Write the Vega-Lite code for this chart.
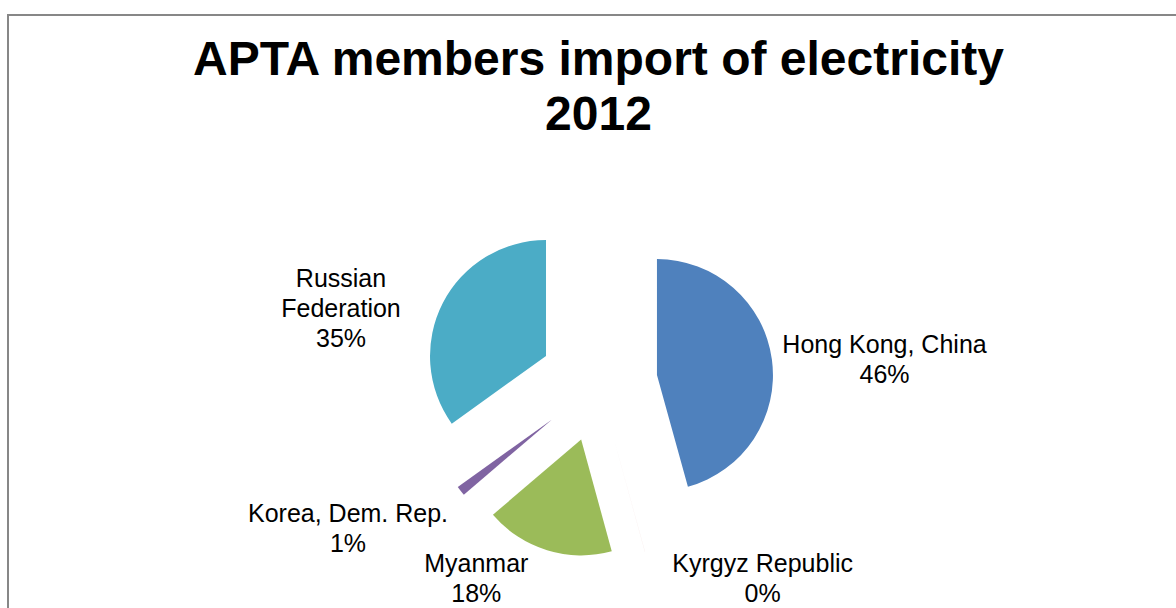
{
  "$schema": "https://vega.github.io/schema/vega-lite/v6.json",
  "autosize": "none",
  "width": 1181,
  "height": 736,
  "padding": {"left": 8, "top": 15, "right": -13, "bottom": -143},
  "background": "white",
  "view": {"stroke": "#878787", "strokeWidth": 2, "fill": "white"},
  "config": {
    "view": {"stroke": "#878787", "strokeWidth": 2},
    "font": "Liberation Sans"
  },
  "title": {
    "text": ["APTA members import of electricity", "2012"],
    "font": "Liberation Sans",
    "fontSize": 48,
    "fontWeight": "bold",
    "color": "black",
    "lineHeight": 55,
    "anchor": "middle",
    "offset": 0,
    "dy": 125
  },
  "data": {
    "values": [
      {"order": 1, "country": "Hong Kong, China", "share": 45.7, "label": "Hong Kong, China\n46%"},
      {"order": 2, "country": "Kyrgyz Republic", "share": 0.05, "label": "Kyrgyz Republic\n0%"},
      {"order": 3, "country": "Myanmar", "share": 18.0, "label": "Myanmar\n18%"},
      {"order": 4, "country": "Korea, Dem. Rep.", "share": 1.35, "label": "Korea, Dem. Rep.\n1%"},
      {"order": 5, "country": "Russian Federation", "share": 34.9, "label": "Russian\nFederation\n35%"}
    ]
  },
  "transform": [
    {"stack": "share", "groupby": [], "offset": "normalize", "sort": [{"field": "order", "order": "ascending"}], "as": ["s0", "s1"]}
  ],
  "layer": [
    {
      "transform": [{"filter": "datum.country == 'Hong Kong, China'"}],
      "mark": {"type": "arc", "radius": 116, "color": "#4F81BD", "xOffset": 58.46, "yOffset": -7.95},
      "encoding": {
        "theta": {"field": "s0", "type": "quantitative", "scale": {"domain": [0, 1]}},
        "theta2": {"field": "s1"}
      }
    },
    {
      "transform": [{"filter": "datum.country == 'Kyrgyz Republic'"}],
      "mark": {"type": "arc", "radius": 116, "color": "#C0504D", "opacity": 0.12, "xOffset": 15.66, "yOffset": 56.88},
      "encoding": {
        "theta": {"field": "s0", "type": "quantitative", "scale": {"domain": [0, 1]}},
        "theta2": {"field": "s1"}
      }
    },
    {
      "transform": [{"filter": "datum.country == 'Myanmar'"}],
      "mark": {"type": "arc", "radius": 116, "color": "#9BBB59", "xOffset": -17.35, "yOffset": 56.39},
      "encoding": {
        "theta": {"field": "s0", "type": "quantitative", "scale": {"domain": [0, 1]}},
        "theta2": {"field": "s1"}
      }
    },
    {
      "transform": [{"filter": "datum.country == 'Korea, Dem. Rep.'"}],
      "mark": {"type": "arc", "radius": 116, "color": "#8064A2", "xOffset": -46.45, "yOffset": 36.38},
      "encoding": {
        "theta": {"field": "s0", "type": "quantitative", "scale": {"domain": [0, 1]}},
        "theta2": {"field": "s1"}
      }
    },
    {
      "transform": [{"filter": "datum.country == 'Russian Federation'"}],
      "mark": {"type": "arc", "radius": 116, "color": "#4BACC6", "xOffset": -52.49, "yOffset": -26.95},
      "encoding": {
        "theta": {"field": "s0", "type": "quantitative", "scale": {"domain": [0, 1]}},
        "theta2": {"field": "s1"}
      }
    },
    {
      "transform": [{"filter": "datum.country == 'Hong Kong, China'"}],
      "mark": {"type": "text", "radius": 287.6, "thetaOffset": 1.4663, "fontSize": 25, "lineHeight": 30, "lineBreak": "\n", "align": "center", "baseline": "alphabetic", "color": "black"},
      "encoding": {
        "theta": {"field": "s0", "type": "quantitative", "scale": {"domain": [0, 1]}},
        "text": {"field": "label"}
      }
    },
    {
      "transform": [{"filter": "datum.country == 'Kyrgyz Republic'"}],
      "mark": {"type": "text", "radius": 250.1, "thetaOffset": -0.4459, "fontSize": 25, "lineHeight": 30, "lineBreak": "\n", "align": "center", "baseline": "alphabetic", "color": "black"},
      "encoding": {
        "theta": {"field": "s0", "type": "quantitative", "scale": {"domain": [0, 1]}},
        "text": {"field": "label"}
      }
    },
    {
      "transform": [{"filter": "datum.country == 'Myanmar'"}],
      "mark": {"type": "text", "radius": 224.8, "thetaOffset": 0.8418, "fontSize": 25, "lineHeight": 30, "lineBreak": "\n", "align": "center", "baseline": "alphabetic", "color": "black"},
      "encoding": {
        "theta": {"field": "s0", "type": "quantitative", "scale": {"domain": [0, 1]}},
        "text": {"field": "label"}
      }
    },
    {
      "transform": [{"filter": "datum.country == 'Korea, Dem. Rep.'"}],
      "mark": {"type": "text", "radius": 286.3, "thetaOffset": 0.2012, "fontSize": 25, "lineHeight": 30, "lineBreak": "\n", "align": "center", "baseline": "alphabetic", "color": "black"},
      "encoding": {
        "theta": {"field": "s0", "type": "quantitative", "scale": {"domain": [0, 1]}},
        "text": {"field": "label"}
      }
    },
    {
      "transform": [{"filter": "datum.country == 'Russian Federation'"}],
      "mark": {"type": "text", "radius": 274.9, "thetaOffset": 0.9798, "fontSize": 25, "lineHeight": 30, "lineBreak": "\n", "align": "center", "baseline": "alphabetic", "color": "black"},
      "encoding": {
        "theta": {"field": "s0", "type": "quantitative", "scale": {"domain": [0, 1]}},
        "text": {"field": "label"}
      }
    }
  ]
}
